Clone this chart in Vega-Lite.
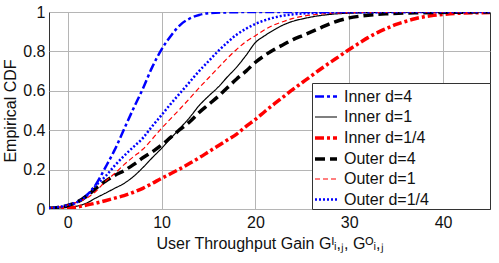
{
  "$schema": "https://vega.github.io/schema/vega-lite/v6.json",
  "width": 441,
  "height": 197,
  "autosize": {"type": "none"},
  "padding": {"left": 49, "top": 12, "right": 9, "bottom": 54},
  "background": "white",
  "config": {
    "font": "Liberation Sans",
    "view": {"stroke": "#333", "strokeWidth": 1},
    "axis": {"labelFont": "Liberation Sans", "titleFont": "Liberation Sans", "labelColor": "#111", "titleColor": "#111", "titleFontWeight": "normal", "gridColor": "#b5b5b5", "gridWidth": 1, "gridOpacity": 1, "domain": false, "ticks": false},
    "legend": {"labelFont": "Liberation Sans"}
  },
  "datasets": {
    "curves": [
      {"series": "Inner d=4", "x": -2, "y": 0.003}, {"series": "Inner d=4", "x": -1, "y": 0.006}, {"series": "Inner d=4", "x": 0, "y": 0.015}, {"series": "Inner d=4", "x": 1, "y": 0.035}, {"series": "Inner d=4", "x": 2, "y": 0.07}, {"series": "Inner d=4", "x": 3, "y": 0.125}, {"series": "Inner d=4", "x": 4, "y": 0.21}, {"series": "Inner d=4", "x": 5, "y": 0.3}, {"series": "Inner d=4", "x": 6, "y": 0.405}, {"series": "Inner d=4", "x": 7, "y": 0.51}, {"series": "Inner d=4", "x": 8, "y": 0.61}, {"series": "Inner d=4", "x": 9, "y": 0.72}, {"series": "Inner d=4", "x": 10, "y": 0.81}, {"series": "Inner d=4", "x": 11, "y": 0.88}, {"series": "Inner d=4", "x": 12, "y": 0.935}, {"series": "Inner d=4", "x": 13, "y": 0.967}, {"series": "Inner d=4", "x": 14, "y": 0.985}, {"series": "Inner d=4", "x": 15, "y": 0.994}, {"series": "Inner d=4", "x": 17, "y": 0.998}, {"series": "Inner d=4", "x": 20, "y": 1}, {"series": "Inner d=4", "x": 45, "y": 1},
      {"series": "Inner d=1", "x": -2, "y": 0.003}, {"series": "Inner d=1", "x": -1, "y": 0.005}, {"series": "Inner d=1", "x": 0, "y": 0.008}, {"series": "Inner d=1", "x": 1, "y": 0.015}, {"series": "Inner d=1", "x": 2, "y": 0.03}, {"series": "Inner d=1", "x": 3, "y": 0.056}, {"series": "Inner d=1", "x": 4, "y": 0.08}, {"series": "Inner d=1", "x": 5, "y": 0.105}, {"series": "Inner d=1", "x": 6, "y": 0.13}, {"series": "Inner d=1", "x": 7, "y": 0.165}, {"series": "Inner d=1", "x": 8, "y": 0.21}, {"series": "Inner d=1", "x": 9, "y": 0.26}, {"series": "Inner d=1", "x": 10, "y": 0.308}, {"series": "Inner d=1", "x": 11, "y": 0.36}, {"series": "Inner d=1", "x": 12, "y": 0.412}, {"series": "Inner d=1", "x": 13, "y": 0.465}, {"series": "Inner d=1", "x": 14, "y": 0.525}, {"series": "Inner d=1", "x": 15, "y": 0.573}, {"series": "Inner d=1", "x": 16, "y": 0.617}, {"series": "Inner d=1", "x": 17, "y": 0.67}, {"series": "Inner d=1", "x": 18, "y": 0.72}, {"series": "Inner d=1", "x": 19, "y": 0.78}, {"series": "Inner d=1", "x": 20, "y": 0.845}, {"series": "Inner d=1", "x": 21, "y": 0.88}, {"series": "Inner d=1", "x": 22, "y": 0.91}, {"series": "Inner d=1", "x": 23, "y": 0.935}, {"series": "Inner d=1", "x": 24, "y": 0.953}, {"series": "Inner d=1", "x": 25, "y": 0.965}, {"series": "Inner d=1", "x": 26, "y": 0.975}, {"series": "Inner d=1", "x": 28, "y": 0.988}, {"series": "Inner d=1", "x": 30, "y": 0.994}, {"series": "Inner d=1", "x": 34, "y": 0.998}, {"series": "Inner d=1", "x": 45, "y": 1},
      {"series": "Inner d=1/4", "x": -2, "y": 0.002}, {"series": "Inner d=1/4", "x": -1, "y": 0.003}, {"series": "Inner d=1/4", "x": 0, "y": 0.005}, {"series": "Inner d=1/4", "x": 1, "y": 0.01}, {"series": "Inner d=1/4", "x": 2, "y": 0.02}, {"series": "Inner d=1/4", "x": 3, "y": 0.03}, {"series": "Inner d=1/4", "x": 4, "y": 0.042}, {"series": "Inner d=1/4", "x": 5, "y": 0.055}, {"series": "Inner d=1/4", "x": 6, "y": 0.068}, {"series": "Inner d=1/4", "x": 7, "y": 0.085}, {"series": "Inner d=1/4", "x": 8, "y": 0.105}, {"series": "Inner d=1/4", "x": 9, "y": 0.13}, {"series": "Inner d=1/4", "x": 10, "y": 0.156}, {"series": "Inner d=1/4", "x": 11, "y": 0.18}, {"series": "Inner d=1/4", "x": 12, "y": 0.205}, {"series": "Inner d=1/4", "x": 13, "y": 0.232}, {"series": "Inner d=1/4", "x": 14, "y": 0.26}, {"series": "Inner d=1/4", "x": 15, "y": 0.29}, {"series": "Inner d=1/4", "x": 16, "y": 0.32}, {"series": "Inner d=1/4", "x": 17, "y": 0.35}, {"series": "Inner d=1/4", "x": 18, "y": 0.38}, {"series": "Inner d=1/4", "x": 19, "y": 0.42}, {"series": "Inner d=1/4", "x": 20, "y": 0.455}, {"series": "Inner d=1/4", "x": 21, "y": 0.495}, {"series": "Inner d=1/4", "x": 22, "y": 0.533}, {"series": "Inner d=1/4", "x": 23, "y": 0.57}, {"series": "Inner d=1/4", "x": 24, "y": 0.607}, {"series": "Inner d=1/4", "x": 25, "y": 0.642}, {"series": "Inner d=1/4", "x": 26, "y": 0.677}, {"series": "Inner d=1/4", "x": 27, "y": 0.712}, {"series": "Inner d=1/4", "x": 28, "y": 0.745}, {"series": "Inner d=1/4", "x": 29, "y": 0.777}, {"series": "Inner d=1/4", "x": 30, "y": 0.81}, {"series": "Inner d=1/4", "x": 31, "y": 0.84}, {"series": "Inner d=1/4", "x": 32, "y": 0.87}, {"series": "Inner d=1/4", "x": 33, "y": 0.895}, {"series": "Inner d=1/4", "x": 34, "y": 0.917}, {"series": "Inner d=1/4", "x": 35, "y": 0.937}, {"series": "Inner d=1/4", "x": 36, "y": 0.952}, {"series": "Inner d=1/4", "x": 37, "y": 0.966}, {"series": "Inner d=1/4", "x": 38, "y": 0.976}, {"series": "Inner d=1/4", "x": 39, "y": 0.983}, {"series": "Inner d=1/4", "x": 40, "y": 0.988}, {"series": "Inner d=1/4", "x": 42, "y": 0.994}, {"series": "Inner d=1/4", "x": 45, "y": 0.997},
      {"series": "Outer d=4", "x": -2, "y": 0.004}, {"series": "Outer d=4", "x": -1, "y": 0.008}, {"series": "Outer d=4", "x": 0, "y": 0.018}, {"series": "Outer d=4", "x": 1, "y": 0.035}, {"series": "Outer d=4", "x": 2, "y": 0.065}, {"series": "Outer d=4", "x": 3, "y": 0.105}, {"series": "Outer d=4", "x": 4, "y": 0.14}, {"series": "Outer d=4", "x": 5, "y": 0.17}, {"series": "Outer d=4", "x": 6, "y": 0.195}, {"series": "Outer d=4", "x": 7, "y": 0.225}, {"series": "Outer d=4", "x": 8, "y": 0.26}, {"series": "Outer d=4", "x": 9, "y": 0.29}, {"series": "Outer d=4", "x": 10, "y": 0.325}, {"series": "Outer d=4", "x": 11, "y": 0.365}, {"series": "Outer d=4", "x": 12, "y": 0.405}, {"series": "Outer d=4", "x": 13, "y": 0.443}, {"series": "Outer d=4", "x": 14, "y": 0.49}, {"series": "Outer d=4", "x": 15, "y": 0.53}, {"series": "Outer d=4", "x": 16, "y": 0.57}, {"series": "Outer d=4", "x": 17, "y": 0.615}, {"series": "Outer d=4", "x": 18, "y": 0.66}, {"series": "Outer d=4", "x": 19, "y": 0.7}, {"series": "Outer d=4", "x": 20, "y": 0.745}, {"series": "Outer d=4", "x": 21, "y": 0.78}, {"series": "Outer d=4", "x": 22, "y": 0.81}, {"series": "Outer d=4", "x": 23, "y": 0.835}, {"series": "Outer d=4", "x": 24, "y": 0.86}, {"series": "Outer d=4", "x": 25, "y": 0.88}, {"series": "Outer d=4", "x": 26, "y": 0.9}, {"series": "Outer d=4", "x": 27, "y": 0.921}, {"series": "Outer d=4", "x": 28, "y": 0.942}, {"series": "Outer d=4", "x": 29, "y": 0.958}, {"series": "Outer d=4", "x": 30, "y": 0.97}, {"series": "Outer d=4", "x": 31, "y": 0.978}, {"series": "Outer d=4", "x": 32, "y": 0.984}, {"series": "Outer d=4", "x": 34, "y": 0.991}, {"series": "Outer d=4", "x": 37, "y": 0.996}, {"series": "Outer d=4", "x": 45, "y": 1},
      {"series": "Outer d=1", "x": -2, "y": 0.005}, {"series": "Outer d=1", "x": -1, "y": 0.01}, {"series": "Outer d=1", "x": 0, "y": 0.02}, {"series": "Outer d=1", "x": 1, "y": 0.035}, {"series": "Outer d=1", "x": 2, "y": 0.055}, {"series": "Outer d=1", "x": 3, "y": 0.09}, {"series": "Outer d=1", "x": 4, "y": 0.14}, {"series": "Outer d=1", "x": 5, "y": 0.18}, {"series": "Outer d=1", "x": 6, "y": 0.225}, {"series": "Outer d=1", "x": 7, "y": 0.265}, {"series": "Outer d=1", "x": 8, "y": 0.303}, {"series": "Outer d=1", "x": 9, "y": 0.355}, {"series": "Outer d=1", "x": 10, "y": 0.41}, {"series": "Outer d=1", "x": 11, "y": 0.46}, {"series": "Outer d=1", "x": 12, "y": 0.51}, {"series": "Outer d=1", "x": 13, "y": 0.562}, {"series": "Outer d=1", "x": 14, "y": 0.615}, {"series": "Outer d=1", "x": 15, "y": 0.665}, {"series": "Outer d=1", "x": 16, "y": 0.715}, {"series": "Outer d=1", "x": 17, "y": 0.765}, {"series": "Outer d=1", "x": 18, "y": 0.81}, {"series": "Outer d=1", "x": 19, "y": 0.85}, {"series": "Outer d=1", "x": 20, "y": 0.88}, {"series": "Outer d=1", "x": 21, "y": 0.91}, {"series": "Outer d=1", "x": 22, "y": 0.935}, {"series": "Outer d=1", "x": 23, "y": 0.952}, {"series": "Outer d=1", "x": 24, "y": 0.968}, {"series": "Outer d=1", "x": 25, "y": 0.978}, {"series": "Outer d=1", "x": 26, "y": 0.985}, {"series": "Outer d=1", "x": 28, "y": 0.993}, {"series": "Outer d=1", "x": 32, "y": 0.998}, {"series": "Outer d=1", "x": 45, "y": 1},
      {"series": "Outer d=1/4", "x": -2, "y": 0.005}, {"series": "Outer d=1/4", "x": -1, "y": 0.01}, {"series": "Outer d=1/4", "x": 0, "y": 0.02}, {"series": "Outer d=1/4", "x": 1, "y": 0.035}, {"series": "Outer d=1/4", "x": 2, "y": 0.065}, {"series": "Outer d=1/4", "x": 3, "y": 0.12}, {"series": "Outer d=1/4", "x": 4, "y": 0.165}, {"series": "Outer d=1/4", "x": 5, "y": 0.22}, {"series": "Outer d=1/4", "x": 6, "y": 0.27}, {"series": "Outer d=1/4", "x": 7, "y": 0.315}, {"series": "Outer d=1/4", "x": 8, "y": 0.36}, {"series": "Outer d=1/4", "x": 9, "y": 0.42}, {"series": "Outer d=1/4", "x": 10, "y": 0.477}, {"series": "Outer d=1/4", "x": 11, "y": 0.535}, {"series": "Outer d=1/4", "x": 12, "y": 0.59}, {"series": "Outer d=1/4", "x": 13, "y": 0.645}, {"series": "Outer d=1/4", "x": 14, "y": 0.7}, {"series": "Outer d=1/4", "x": 15, "y": 0.75}, {"series": "Outer d=1/4", "x": 16, "y": 0.8}, {"series": "Outer d=1/4", "x": 17, "y": 0.845}, {"series": "Outer d=1/4", "x": 18, "y": 0.885}, {"series": "Outer d=1/4", "x": 19, "y": 0.915}, {"series": "Outer d=1/4", "x": 20, "y": 0.94}, {"series": "Outer d=1/4", "x": 21, "y": 0.958}, {"series": "Outer d=1/4", "x": 22, "y": 0.972}, {"series": "Outer d=1/4", "x": 23, "y": 0.982}, {"series": "Outer d=1/4", "x": 24, "y": 0.988}, {"series": "Outer d=1/4", "x": 26, "y": 0.995}, {"series": "Outer d=1/4", "x": 30, "y": 0.999}, {"series": "Outer d=1/4", "x": 45, "y": 1}
    ]
  },
  "data": {"name": "curves"},
  "mark": {"type": "line", "interpolate": "monotone", "clip": true},
  "encoding": {
    "x": {
      "field": "x", "type": "quantitative",
      "scale": {"domain": [-2, 45], "nice": false, "zero": false},
      "axis": {"values": [0, 10, 20, 30, 40], "labelFontSize": 16, "labelPadding": 5, "title": "User Throughput Gain Gᴵᵢ,ⱼ, Gᴼᵢ,ⱼ", "titleFontSize": 16, "titlePadding": 5}
    },
    "y": {
      "field": "y", "type": "quantitative",
      "scale": {"domain": [0, 1], "nice": false},
      "axis": {"values": [0, 0.2, 0.4, 0.6, 0.8, 1], "format": "~g", "labelFontSize": 16, "labelPadding": 4, "title": "Empirical CDF", "titleFontSize": 16, "titlePadding": 4}
    },
    "color": {
      "field": "series", "type": "nominal",
      "scale": {"domain": ["Inner d=4", "Inner d=1", "Inner d=1/4", "Outer d=4", "Outer d=1", "Outer d=1/4"], "range": ["#0000ff", "#000000", "#ff0000", "#000000", "#ff0000", "#0000ff"]},
      "legend": {"title": null, "orient": "bottom-right", "offset": 0, "symbolType": "stroke", "symbolSize": 484, "labelFontSize": 16, "labelColor": "#111", "labelOffset": 5, "rowPadding": 0, "padding": 1, "fillColor": "white", "strokeColor": "#333", "labelExpr": "datum.label + '\u2800\u2800\u2800\u2800\u2800'"}
    },
    "strokeDash": {
      "field": "series", "type": "nominal",
      "scale": {"domain": ["Inner d=4", "Inner d=1", "Inner d=1/4", "Outer d=4", "Outer d=1", "Outer d=1/4"], "range": [[9, 3, 3, 3], [1, 0], [9, 3, 3, 3], [10, 5], [5, 3], [2, 2]]},
      "legend": {"title": null}
    },
    "strokeWidth": {
      "field": "series", "type": "nominal",
      "scale": {"type": "ordinal", "domain": ["Inner d=4", "Inner d=1", "Inner d=1/4", "Outer d=4", "Outer d=1", "Outer d=1/4"], "range": [2.5, 1.2, 3.5, 3.5, 1.2, 2.5]},
      "legend": {"title": null}
    },
    "order": {"field": "x", "type": "quantitative"}
  }
}
